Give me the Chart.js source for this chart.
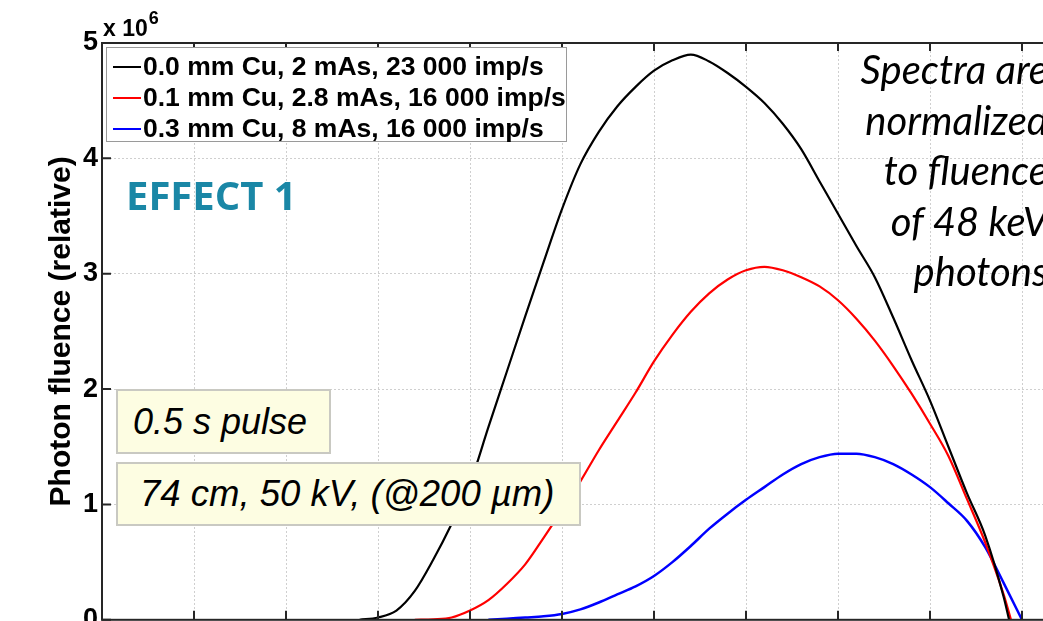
<!DOCTYPE html>
<html lang="en">
<head>
<meta charset="UTF-8">
<title>Photon fluence spectra</title>
<script src="https://cdn.jsdelivr.net/npm/chart.js"></script>
<style>
  body { margin: 0; overflow: hidden; background: #fff; font-family: "Liberation Sans", Arial, sans-serif; }
  #wrap { position: relative; width: 1120px; height: 621px; overflow: hidden; }
  #fluenceChart { position: absolute; left: 0; top: 0; }
  .abs { position: absolute; white-space: nowrap; }
  #legend { left: 106px; top: 47px; width: 461px; height: 95px; border: 1px solid #9a9a9a; background: #fff; padding-top: 3px; box-sizing: border-box; }
  .row { display: flex; align-items: center; height: 31px; font-weight: bold; font-size: 26.5px; color: #000; }
  .swatch { width: 28px; height: 2px; margin-left: 6px; margin-right: 2px; }
  #mult { left: 103px; top: 11px; font-weight: bold; font-size: 23px; }
  #mult sup { font-size: 18px; position: relative; top: -3px; margin-left: 1px; }
  #effect { left: 126px; top: 167px; font-family: "Open Sans", sans-serif; font-weight: bold; font-size: 40px; color: #1a87a6; }
  .note { background: #fdfde2; border: 2px solid #c9c9c2; box-sizing: border-box; font-style: italic; font-size: 36px; display: flex; align-items: center; }
  #pulse { left: 116px; top: 389px; width: 215px; height: 65px; padding-left: 15px; }
  #setup { left: 116px; top: 462px; width: 465px; height: 64px; padding-left: 22px; font-size: 36.5px; }
  #normText { left: 740px; top: 44px; width: 308px; text-align: right; font-family: Lato, "Open Sans", sans-serif; font-style: italic; font-size: 40px; line-height: 50.5px; }
</style>
</head>
<body>
<div id="wrap">
  <canvas id="fluenceChart" width="1120" height="640"></canvas>
  <div class="abs" id="mult">x 10<sup>6</sup></div>
  <div class="abs" id="legend"></div>
  <div class="abs" id="effect">EFFECT 1</div>
  <div class="abs note" id="pulse">0.5 s pulse</div>
  <div class="abs note" id="setup">74 cm, 50 kV, (@200 µm)</div>
  <div class="abs" id="normText">Spectra are<br>normalized<br>to fluence<br>of 48 keV<br>photons</div>
</div>

<script>
// photon energy (keV) and relative fluence (x 10^6)
const energyCu00 = [14, 15, 16, 17, 18, 19, 20, 21, 22, 23, 24, 25, 26, 27, 28, 29, 30, 31, 32, 33, 34, 35, 36, 37, 38, 39, 40, 41, 42, 43, 44, 45, 46, 47, 48, 49, 49.3];
const fluenceCu00 = [0, 0.02, 0.08, 0.25, 0.52, 0.83, 1.18, 1.67, 2.15, 2.63, 3.1, 3.56, 3.95, 4.23, 4.45, 4.62, 4.76, 4.85, 4.9, 4.84, 4.74, 4.62, 4.48, 4.3, 4.08, 3.8, 3.52, 3.24, 2.97, 2.62, 2.25, 1.9, 1.5, 1.1, 0.73, 0.2, 0];

const energyCu01 = [17, 18, 19, 20, 21, 22, 23, 24, 25, 26, 27, 28, 29, 30, 31, 32, 33, 34, 35, 36, 37, 38, 39, 40, 41, 42, 43, 44, 45, 46, 47, 48, 49, 49.4];
const fluenceCu01 = [0, 0.005, 0.02, 0.08, 0.17, 0.31, 0.48, 0.71, 0.95, 1.2, 1.47, 1.72, 1.97, 2.24, 2.47, 2.67, 2.83, 2.95, 3.03, 3.06, 3.03, 2.97, 2.89, 2.77, 2.61, 2.42, 2.2, 1.96, 1.7, 1.42, 1.05, 0.67, 0.22, 0];

const energyCu03 = [21, 22, 23, 24, 25, 26, 27, 28, 29, 30, 31, 32, 33, 34, 35, 36, 37, 38, 39, 40, 41, 42, 43, 44, 45, 46, 47, 48, 49, 50];
const fluenceCu03 = [0, 0.01, 0.02, 0.03, 0.05, 0.09, 0.15, 0.22, 0.29, 0.38, 0.5, 0.64, 0.79, 0.92, 1.04, 1.15, 1.26, 1.35, 1.41, 1.44, 1.44, 1.41, 1.35, 1.26, 1.15, 1.01, 0.86, 0.63, 0.32, 0];

const seriesLabels = [
  '0.0 mm Cu, 2 mAs, 23 000 imp/s',
  '0.1 mm Cu, 2.8 mAs, 16 000 imp/s',
  '0.3 mm Cu, 8 mAs, 16 000 imp/s'
];
const seriesColors = ['#000000', '#ff0000', '#0000ff'];
const yTicks = [0, 1, 2, 3, 4, 5];

function toPoints(xs, ys) {
  return xs.map((x, i) => ({ x: x, y: ys[i] }));
}

// legend box inside the axes
const legendEl = document.getElementById('legend');
seriesLabels.forEach((label, i) => {
  const row = document.createElement('div');
  row.className = 'row';
  row.innerHTML = '<span class="swatch" style="background:' + seriesColors[i] + '"></span><span>' + label + '</span>';
  legendEl.appendChild(row);
});

// frame around the axes with inward tick marks
const matlabFrame = {
  id: 'matlabFrame',
  afterDatasetsDraw(chart) {
    const { ctx, chartArea: a, scales: { x, y } } = chart;
    ctx.save();
    ctx.strokeStyle = '#262626';
    ctx.lineWidth = 2;
    ctx.strokeRect(a.left, a.top, a.right - a.left, a.bottom - a.top);
    ctx.beginPath();
    x.ticks.forEach(t => {
      const px = x.getPixelForValue(t.value);
      ctx.moveTo(px, a.bottom); ctx.lineTo(px, a.bottom - 9);
      ctx.moveTo(px, a.top); ctx.lineTo(px, a.top + 8);
    });
    y.ticks.forEach(t => {
      const py = y.getPixelForValue(t.value);
      ctx.moveTo(a.left, py); ctx.lineTo(a.left + 9, py);
      ctx.moveTo(a.right, py); ctx.lineTo(a.right - 9, py);
    });
    ctx.stroke();
    ctx.restore();
  }
};

const gridStyle = { color: '#cfcfcf', lineWidth: 1, drawTicks: false };

const ctx = document.getElementById('fluenceChart').getContext('2d');
const fluenceChart = new Chart(ctx, {
  type: 'line',
  data: {
    datasets: [
      { label: seriesLabels[0], data: toPoints(energyCu00, fluenceCu00), borderColor: seriesColors[0], borderWidth: 2.2 },
      { label: seriesLabels[1], data: toPoints(energyCu01, fluenceCu01), borderColor: seriesColors[1], borderWidth: 2.2 },
      { label: seriesLabels[2], data: toPoints(energyCu03, fluenceCu03), borderColor: seriesColors[2], borderWidth: 2.5 }
    ]
  },
  options: {
    responsive: false,
    animation: false,
    elements: {
      point: { radius: 0 },
      line: { cubicInterpolationMode: 'monotone', fill: false }
    },
    layout: { padding: { left: 0, top: 43, right: 6, bottom: 2 } },
    plugins: {
      legend: { display: false },
      tooltip: { enabled: false }
    },
    scales: {
      x: {
        type: 'linear',
        min: 0,
        max: 55,
        ticks: { display: false, stepSize: 5 },
        grid: gridStyle,
        border: { display: false, dash: [2, 2] }
      },
      y: {
        min: 0,
        max: 5,
        afterBuildTicks: (scale) => { scale.ticks = yTicks.map(v => ({ value: v })); },
        ticks: {
          color: '#000',
          padding: 4,
          font: { family: '"Liberation Sans", Arial, sans-serif', size: 27, weight: 'bold' }
        },
        grid: gridStyle,
        border: { display: false, dash: [2, 2] },
        title: {
          display: true,
          text: 'Photon fluence (relative)',
          color: '#000',
          padding: { top: 44, bottom: 0 },
          font: { family: '"Liberation Sans", Arial, sans-serif', size: 30, weight: 'bold' }
        },
        afterFit: (scale) => { scale.width = 102; }
      }
    }
  },
  plugins: [matlabFrame]
});
</script>
</body>
</html>
